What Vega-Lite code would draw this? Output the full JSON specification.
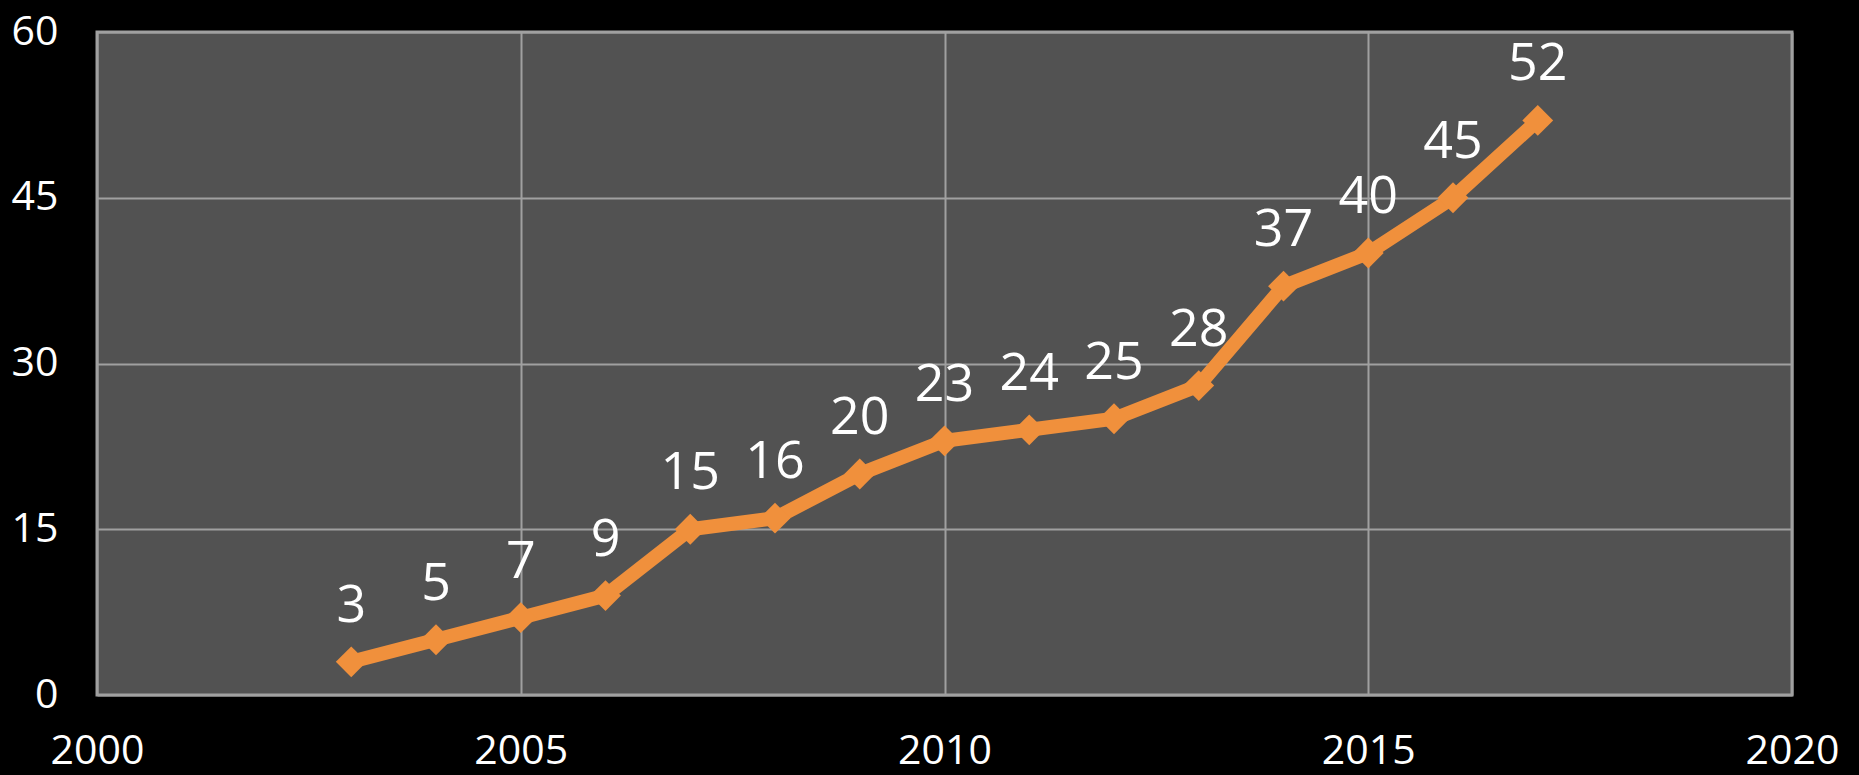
{
  "$schema": "https://vega.github.io/schema/vega-lite/v6.json",
  "autosize": "none",
  "width": 1695,
  "height": 663,
  "padding": {"left": 97, "top": 32, "right": 67, "bottom": 80},
  "background": "#000000",
  "config": {
    "view": {"fill": "#525252", "stroke": "#A0A0A0", "strokeWidth": 3},
    "axis": {
      "labelColor": "#FFFFFF",
      "labelFont": "Open Sans",
      "labelFontSize": 41,
      "gridColor": "#A0A0A0",
      "gridWidth": 2,
      "gridOpacity": 1,
      "domain": false,
      "ticks": false,
      "tickSize": 0,
      "title": null
    }
  },
  "data": {
    "values": [
      {"year": 2003, "value": 3},
      {"year": 2004, "value": 5},
      {"year": 2005, "value": 7},
      {"year": 2006, "value": 9},
      {"year": 2007, "value": 15},
      {"year": 2008, "value": 16},
      {"year": 2009, "value": 20},
      {"year": 2010, "value": 23},
      {"year": 2011, "value": 24},
      {"year": 2012, "value": 25},
      {"year": 2013, "value": 28},
      {"year": 2014, "value": 37},
      {"year": 2015, "value": 40},
      {"year": 2016, "value": 45},
      {"year": 2017, "value": 52}
    ]
  },
  "encoding": {
    "x": {
      "field": "year",
      "type": "quantitative",
      "scale": {"domain": [2000, 2020], "nice": false, "zero": false},
      "axis": {"values": [2000, 2005, 2010, 2015, 2020], "format": "d", "labelPadding": 36, "labelFlush": false, "labelOverlap": false}
    },
    "y": {
      "field": "value",
      "type": "quantitative",
      "scale": {"domain": [0, 60], "nice": false},
      "axis": {"values": [0, 15, 30, 45, 60], "labelPadding": 39, "labelFlush": false, "labelOverlap": false}
    }
  },
  "layer": [
    {"mark": {"type": "line", "color": "#F0903C", "strokeWidth": 14}},
    {"mark": {"type": "point", "shape": "diamond", "filled": true, "size": 950, "color": "#F0903C", "opacity": 1}},
    {
      "mark": {"type": "text", "color": "#FFFFFF", "font": "Open Sans", "fontSize": 52, "baseline": "alphabetic", "dy": -40},
      "encoding": {"text": {"field": "value", "type": "quantitative"}}
    }
  ]
}
